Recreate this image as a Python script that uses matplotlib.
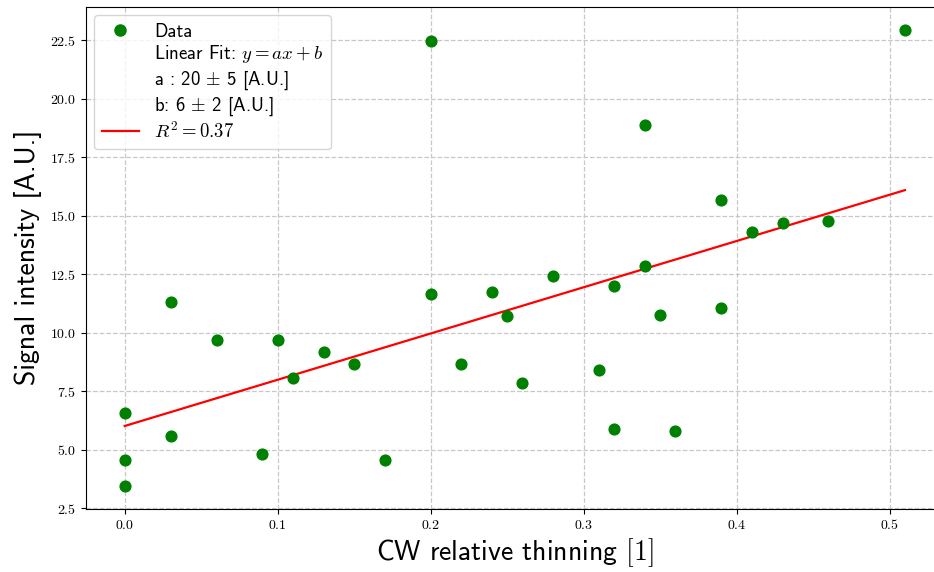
import numpy as np
import matplotlib
matplotlib.use("Agg")
import matplotlib.pyplot as plt
from matplotlib.lines import Line2D
from matplotlib.ticker import FuncFormatter, MultipleLocator

plt.rcParams['mathtext.fontset'] = 'cm'
plt.rcParams['font.family'] = ['cmss10', 'DejaVu Sans']
plt.rcParams['axes.unicode_minus'] = False

# relative thinning vs signal intensity
thinning = [0.00, 0.00, 0.00, 0.03, 0.03, 0.06, 0.09, 0.10, 0.11, 0.13,
            0.15, 0.17, 0.20, 0.20, 0.22, 0.24, 0.25, 0.26, 0.28, 0.31,
            0.32, 0.32, 0.34, 0.34, 0.35, 0.36, 0.39, 0.39, 0.41, 0.43,
            0.46, 0.51]
intensity = [6.55, 4.57, 3.45, 11.30, 5.60, 9.70, 4.80, 9.70, 8.05, 9.15,
             8.65, 4.57, 22.48, 11.65, 8.65, 11.75, 10.70, 7.85, 12.40, 8.40,
             12.00, 5.90, 18.85, 12.85, 10.75, 5.80, 15.65, 11.05, 14.30, 14.70,
             14.75, 22.95]

# uncertainties on slope / intercept
err_a, err_b = 5, 2

x = np.array(thinning)
y = np.array(intensity)

# least squares fit
fit_a, fit_b = np.polyfit(x, y, 1)
pred = fit_a * x + fit_b
r2 = 1 - np.sum((y - pred) ** 2) / np.sum((y - y.mean()) ** 2)

fig = plt.figure(figsize=(9.34, 5.72), dpi=100)
ax = fig.add_axes([85.7 / 934, 1 - 508.7 / 572, (944 - 85.7) / 934, (508.7 - 6.7) / 572])

ax.scatter(x, y, s=60, color='green', zorder=3)
xs = np.array([x.min(), x.max()])
ax.plot(xs, fit_a * xs + fit_b, color='red', lw=1.6, zorder=2)

ax.set_xlim(-0.0255, 0.5355)
ax.set_ylim(2.475, 23.925)
ax.xaxis.set_major_locator(MultipleLocator(0.1))
ax.yaxis.set_major_locator(MultipleLocator(2.5))
ax.xaxis.set_major_formatter(FuncFormatter(lambda v, p: f'${v:.1f}$'))
ax.yaxis.set_major_formatter(FuncFormatter(lambda v, p: f'${v:.1f}$'))
ax.tick_params(labelsize=10)

ax.grid(True, linestyle='--', color='#c8c8c8', lw=0.9)
ax.set_axisbelow(True)

ax.set_xlabel(r'CW relative thinning $[1]$', fontsize=20, labelpad=3)
ax.set_ylabel('Signal intensity [A.U.]', fontsize=20, labelpad=6)

blank = Line2D([], [], linestyle='none')
handles = [
    Line2D([], [], marker='o', color='green', linestyle='none', markersize=8),
    blank, blank, blank,
    Line2D([], [], color='red', lw=1.6),
]
labels = [
    'Data',
    r'Linear Fit: $y=ax+b$',
    r'a : %d $\pm$ %d [A.U.]' % (round(fit_a), err_a),
    r'b: %d $\pm$ %d [A.U.]' % (round(fit_b), err_b),
    r'$R^2=%.2f$' % r2,
]
ax.legend(handles, labels, loc='upper left', fontsize=13.5, framealpha=0.8,
          labelspacing=0.15, borderaxespad=0.45)

fig.savefig('out.png', dpi=100)
